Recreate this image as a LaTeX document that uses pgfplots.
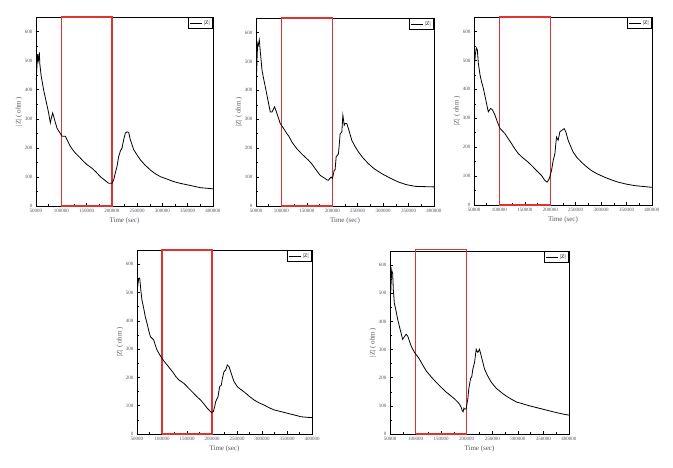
\documentclass[border=0pt]{standalone}
\usepackage{fontspec}
\setmainfont{Liberation Serif}
\usepackage{pgfplots}
\pgfplotsset{compat=1.18}

\definecolor{boxred}{RGB}{225,50,50}
\definecolor{labgray}{RGB}{80,85,95}

\pgfplotsset{
  zplot/.style={
    scale only axis, anchor=south west,
    xmin=50000, xmax=400000, ymin=0, ymax=650,
    xtick={50000,100000,...,400000}, ytick={0,100,...,600},
    minor x tick num=1, minor y tick num=1,
    scaled x ticks=false,
    tick pos=left, tick align=inside,
    major tick length=3pt, minor tick length=1.6pt,
    axis line style={line width=0.8pt},
    every tick/.style={black, line width=0.5pt},
    xticklabel style={font=\fontsize{5}{5.5}\selectfont, text=labgray,
      /pgf/number format/fixed, /pgf/number format/1000 sep={},
      /pgf/number format/assume math mode=true},
    yticklabel style={font=\fontsize{5}{5.5}\selectfont, text=labgray,
      /pgf/number format/assume math mode=true},
    xlabel={Time (sec)}, ylabel={|Z| ( ohm )},
    label style={font=\fontsize{7}{8}\selectfont, text=labgray},
    xlabel style={yshift=2pt}, ylabel style={yshift=-4pt},
    legend style={at={(1,1)}, anchor=north east, draw=black, line width=0.6pt,
      font=\fontsize{5.5}{6}\selectfont, inner sep=1pt, row sep=0pt},
    legend image code/.code={\draw[#1] (0pt,0pt) -- (12pt,0pt);},
    clip=false,
  },
  zline/.style={black, line width=0.8pt},
  zbox/.style={boxred, line width=1.3pt, forget plot},
}

\begin{document}
\begin{tikzpicture}[x=1pt,y=1pt]
\path[use as bounding box] (0,0) rectangle (673,468);

% top left
\begin{axis}[zplot, at={(36pt,262pt)}, width=177pt, height=189pt]
\addplot[zbox] coordinates {(100000,0) (100000,650) (200000,650) (200000,0) (100000,0)};
\addplot[zline] coordinates {
(50660,435) (51500,470) (53300,522) (54500,500) (55500,510) (56600,528) (57500,490)
(60000,450) (65000,400) (70000,360) (75000,320) (78300,286) (80000,300) (83000,320)
(87000,295) (91500,268) (96000,255) (101400,240) (108000,240) (113000,222) (118000,205)
(122000,195) (127800,182) (135000,170) (143000,155) (150900,142) (160700,130)
(168000,118) (177200,101) (185000,90) (193700,78) (200300,78) (203600,90) (207000,115)
(210200,136) (213500,170) (217000,190) (220100,199) (223400,228) (226700,251)
(230000,255) (233300,253) (236500,228) (240000,210) (243100,194) (250000,175)
(256300,159) (265000,142) (276100,124) (285000,112) (295900,101) (310000,92)
(322200,84) (335000,78) (348600,73) (362000,68) (375000,63) (388000,61) (400000,59)};
\legend{|Z|}
\end{axis}

% top middle
\begin{axis}[zplot, at={(256pt,262pt)}, width=178pt, height=188pt]
\addplot[zbox] coordinates {(100000,0) (100000,650) (200000,650) (200000,0) (100000,0)};
\addplot[zline] coordinates {
(51300,464) (52300,520) (53300,562) (54500,555) (56500,574) (58500,533) (61800,470)
(65000,440) (68300,412) (73000,370) (78100,325) (81400,325) (86600,343) (91200,320)
(97700,285) (104300,268) (110800,250) (115000,240) (120600,221) (130400,198)
(140000,180) (153300,158) (160000,145) (166400,129) (176200,106) (186000,95)
(190000,90) (192600,89) (195000,95) (197800,100) (200400,95) (203700,123)
(205500,125) (207600,170) (210000,175) (212200,181) (215500,250) (218800,256)
(220800,314) (222000,300) (223400,279) (225300,285) (228600,285) (233000,260)
(238400,227) (245000,205) (251500,187) (260000,167) (271100,146) (283000,128)
(297200,112) (313000,97) (329900,83) (345000,74) (362600,68) (380000,67) (400000,66)};
\legend{|Z|}
\end{axis}

% top right
\begin{axis}[zplot, at={(474pt,263pt)}, width=178pt, height=188pt]
\addplot[zbox] coordinates {(100000,0) (100000,650) (200000,650) (200000,0) (100000,0)};
\addplot[zline] coordinates {
(50700,473) (52600,520) (54600,543) (56500,537) (58500,491) (61800,450) (65000,425)
(68300,404) (73000,365) (78100,322) (82700,334) (86600,328) (91200,311) (95800,288)
(101000,265) (110800,247) (117000,230) (123900,212) (130000,195) (137000,178)
(146000,163) (156600,148) (163000,137) (169700,125) (176000,114) (182800,102)
(189300,85) (193900,79) (197800,90) (202400,119) (205700,154) (209000,177)
(212200,235) (215500,224) (218800,253) (223400,259) (227300,264) (230500,253)
(235100,224) (240000,203) (245000,183) (252000,165) (261300,148) (270000,134)
(280900,119) (293000,107) (307000,96) (320000,87) (333200,79) (350000,72)
(365900,67) (383000,64) (400000,61)};
\legend{|Z|}
\end{axis}

% bottom left
\begin{axis}[zplot, at={(137pt,34pt)}, width=175pt, height=184pt]
\addplot[zbox] coordinates {(100000,0) (100000,650) (200000,650) (200000,0) (100000,0)};
\addplot[zline] coordinates {
(51300,520) (53300,549) (55400,551) (58000,502) (60000,473) (63400,444) (66500,415)
(70100,391) (73500,365) (76800,344) (80000,338) (83500,332) (87000,312) (90200,296)
(95000,281) (100200,267) (105000,255) (110200,244) (117000,229) (123600,214)
(128000,202) (133700,191) (143700,179) (152000,164) (160400,149) (168000,135)
(177200,120) (184000,106) (190600,91) (198600,76) (202600,79) (205300,96)
(207300,114) (212000,132) (215300,167) (218700,173) (220700,196) (224000,220)
(227400,226) (230700,244) (234100,238) (237400,220) (244100,185) (250800,167)
(257000,158) (264200,149) (274000,134) (284300,120) (294000,110) (304400,102)
(314000,93) (324400,85) (338000,79) (351200,73) (365000,67) (377900,61) (390000,59)
(400000,58)};
\legend{|Z|}
\end{axis}

% bottom right
\begin{axis}[zplot, at={(390pt,34pt)}, width=179pt, height=183pt]
\addplot[zbox] coordinates {(100000,0) (100000,655) (200000,655) (200000,0) (100000,0)};
\addplot[zline] coordinates {
(51300,495) (52300,540) (53300,583) (54300,575) (55200,571) (56500,512) (58500,465)
(61500,440) (65000,407) (70000,370) (74800,336) (78000,345) (81400,354) (84600,348)
(88000,330) (91200,313) (97700,290) (102000,280) (107500,266) (114000,245)
(120500,225) (130000,204) (140100,184) (150000,166) (159700,149) (168000,137)
(176100,125) (181000,116) (185900,106) (189000,95) (191100,84) (193000,79)
(194400,92) (196000,88) (198900,90) (202200,125) (204100,161) (207400,196)
(210000,205) (212000,231) (215300,254) (218500,301) (220000,295) (221800,290)
(225000,301) (228300,278) (231000,258) (234800,231) (240000,210) (247900,184)
(258000,162) (270800,143) (283000,128) (296900,114) (310000,107) (323000,100)
(336000,94) (349200,88) (362000,82) (375300,76) (388000,71) (400000,67)};
\legend{|Z|}
\end{axis}

\end{tikzpicture}
\end{document}
